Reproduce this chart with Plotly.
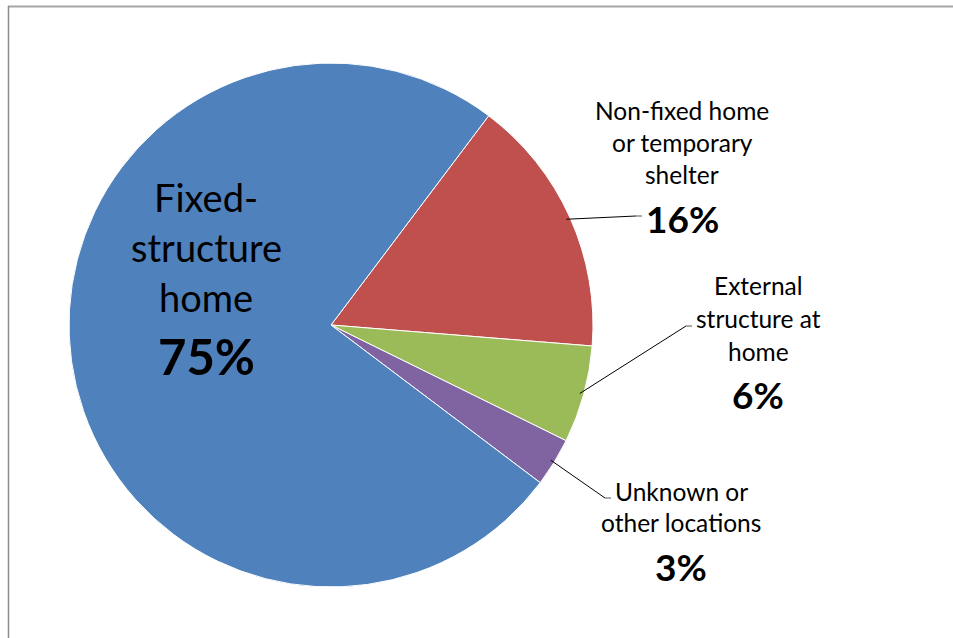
import math
import plotly.graph_objects as go

# Share of cases by location
categories = [
    "Non-fixed home\nor temporary\nshelter",
    "External\nstructure at\nhome",
    "Unknown or\nother locations",
    "Fixed-\nstructure\nhome",
]
values = [16, 6, 3, 75]
pct_labels = ["16%", "6%", "3%", "75%"]
colors = ["#C0504D", "#9BBB59", "#8064A2", "#4F81BD"]

W, H = 953, 638
CX, CY, R = 331, 325, 262          # pie centre and radius in pixels
ROTATION = 37                       # first slice starts 37 deg clockwise from 12 o'clock
FONT = "Lato"


def px(x):
    return x / W


def py(y):
    return 1 - y / H


fig = go.Figure(
    go.Pie(
        labels=[c.replace("\n", " ") for c in categories],
        values=values,
        sort=False,
        direction="clockwise",
        rotation=ROTATION,
        marker=dict(colors=colors, line=dict(color="white", width=1)),
        textinfo="none",
        hoverinfo="label+percent",
        domain=dict(x=[px(CX - R), px(CX + R)], y=[py(CY + R), py(CY - R)]),
        showlegend=False,
    )
)

# label block layout: centre x, first-line y, line step, percent y, font sizes
label_layout = [
    dict(x=682, y=110, step=32.5, pct_y=218, size=24.5, pct_size=37, leader=(642, 216)),
    dict(x=758, y=285, step=33, pct_y=394, size=24.5, pct_size=37, leader=(692, 326)),
    dict(x=681, y=491, step=31, pct_y=566, size=24.5, pct_size=37, leader=(611, 498)),
    dict(x=206, y=197, step=50, pct_y=356, size=38, pct_size=49, leader=None),
]

annotations = []
shapes = []
total = sum(values)
start = ROTATION
for cat, val, pct, lay in zip(categories, values, pct_labels, label_layout):
    span = 360 * val / total
    mid = math.radians(start + span / 2)
    start += span
    for i, line in enumerate(cat.split("\n")):
        annotations.append(dict(
            x=px(lay["x"]), y=py(lay["y"] + i * lay["step"]), xref="paper", yref="paper",
            text=line, showarrow=False, xanchor="center", yanchor="middle",
            font=dict(family=FONT, size=lay["size"], color="black"),
        ))
    annotations.append(dict(
        x=px(lay["x"]), y=py(lay["pct_y"]), xref="paper", yref="paper",
        text="<b>" + pct + "</b>", showarrow=False, xanchor="center", yanchor="middle",
        font=dict(family=FONT, size=lay["pct_size"], color="black"),
    ))
    if lay["leader"] is not None:
        # leader line from slice mid-point on the rim to the label
        sx = CX + (R - 4) * math.sin(mid)
        sy = CY - (R - 4) * math.cos(mid)
        ex, ey = lay["leader"]
        shapes.append(dict(type="line", xref="paper", yref="paper",
                           x0=px(sx), y0=py(sy), x1=px(ex - 6), y1=py(ey),
                           line=dict(color="black", width=1)))
        shapes.append(dict(type="line", xref="paper", yref="paper",
                           x0=px(ex - 6), y0=py(ey), x1=px(ex), y1=py(ey),
                           line=dict(color="#555555", width=1)))

# chart frame (top and left edges)
shapes.append(dict(type="line", xref="paper", yref="paper", x0=px(8), y0=py(6.5), x1=1, y1=py(6.5),
                   line=dict(color="#A6A6A6", width=2)))
shapes.append(dict(type="line", xref="paper", yref="paper", x0=px(8.5), y0=py(6), x1=px(8.5), y1=0,
                   line=dict(color="#8C8C8C", width=1.5)))

fig.update_layout(
    width=W, height=H,
    margin=dict(l=0, r=0, t=0, b=0),
    paper_bgcolor="white", plot_bgcolor="white",
    annotations=annotations, shapes=shapes,
)

fig.write_html("out.html")
